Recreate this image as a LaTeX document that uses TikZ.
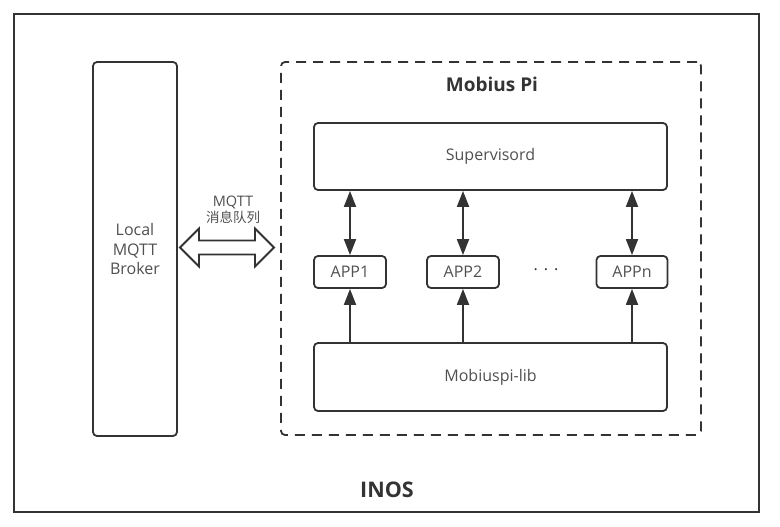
\documentclass[tikz,border=0pt]{standalone}
\usepackage{fontspec}
\setmainfont{Open Sans}
\newfontfamily\cjk{Noto Sans CJK SC}
\usepackage{xcolor}
\usetikzlibrary{arrows.meta}
\definecolor{linegray}{RGB}{51,51,51}
\definecolor{textgray}{RGB}{80,80,80}
\tikzset{apptip/.tip={Triangle[length=16pt,width=12pt]}}

\begin{document}
\begin{tikzpicture}[x=1pt,y=1pt,
		box/.style={draw=linegray,line width=1.8pt,rounded corners=4pt,inner sep=0pt,
			font=\fontsize{16}{19}\selectfont,text=textgray},
		title/.style={font=\fontsize{19}{22}\selectfont\bfseries,text=linegray},
		link/.style={draw=linegray,fill=linegray,line width=1.8pt}]
		\useasboundingbox (0,0) rectangle (780,-527);
		\node[draw=linegray,line width=2.2pt,minimum width=745,minimum height=498] (INOS) at (386.5,-263) {};
		\node[box,minimum width=84,minimum height=374,align=center,
			font=\fontsize{16}{19.5}\selectfont] (broker) at (135,-249) {Local\\MQTT\\Broker};
		\node[box,dash pattern=on 10pt off 7pt,minimum width=420,minimum height=373] (pi) at (491,-248.5) {};
		\node[title] (pititle) at (492,-84) {Mobius Pi};
		\node[box,minimum width=353,minimum height=67] (sup) at (490.5,-156.5) {Supervisord};
		\node[box,minimum width=72,minimum height=32] (app1) at (350,-272) {APP1};
		\node[box,minimum width=72,minimum height=32] (app2) at (463,-272) {APP2};
		\node[box,minimum width=71,minimum height=32] (appn) at (632,-272) {APPn};
		\node[text=linegray,font=\fontsize{16}{19}\selectfont] (dots) at (546,-270) {.\hspace{6pt}.\hspace{6pt}.};
		\node[box,minimum width=353,minimum height=68] (lib) at (490.5,-377) {Mobiuspi-lib};
		\node[title,font=\fontsize{21.5}{25}\selectfont\bfseries] (inostitle) at (387,-490) {INOS};
		
		% MQTT queue
		\coordinate (queue) at (227,-247.5);
		\draw[linegray,line width=1.8pt,line join=miter]
		([xshift=-47pt]queue) -- ++(19,19) -- ++(0,-12) -- ++(56,0) -- ++(0,12) -- ++(19,-19)
		-- ++(-19,-19) -- ++(0,12) -- ++(-56,0) -- ++(0,-12) -- cycle;
		\node[text=textgray,align=center,font=\fontsize{14.5}{16}\selectfont] (qlabel) at (233,-210) {MQTT\\{\cjk\fontsize{13.5}{16}\selectfont 消息队列}};
		
		%
		\foreach \app in {app1,app2,appn}{
			\draw[link,{apptip}-{apptip}] (\app.north |- sup.south) -- (\app.north);
			\draw[link,-{apptip}] (\app.south |- lib.north) -- (\app.south);
		}
\end{tikzpicture}
\end{document}
